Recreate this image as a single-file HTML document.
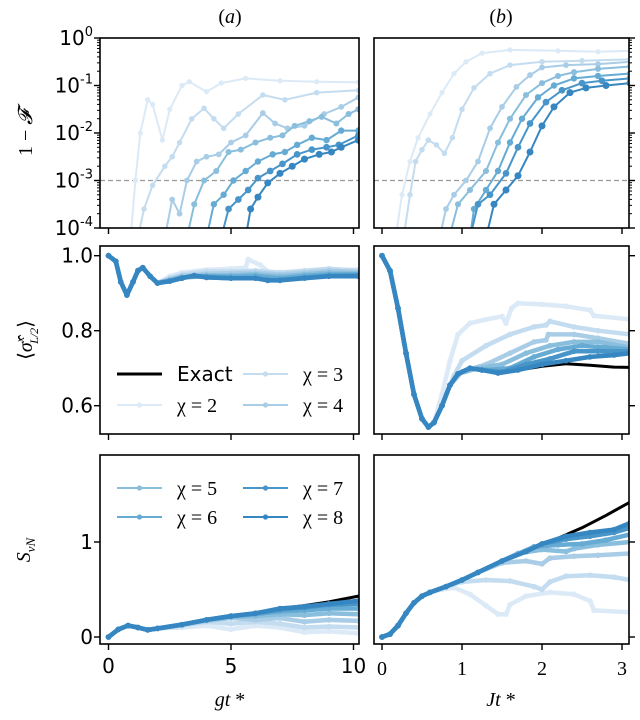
<!DOCTYPE html>
<html><head><meta charset="utf-8"><style>
body{margin:0;background:#fff}
svg{display:block}
.tl{font-family:"DejaVu Sans","Liberation Sans",sans-serif;font-size:20px;fill:#000}
.sr{font-family:"Liberation Serif",serif;font-size:20px;fill:#000}
</style></head><body>
<svg id="c" width="640" height="720" viewBox="0 0 640 720" xmlns="http://www.w3.org/2000/svg"></svg>
<script>
// ---------- DATA ----------
const chiLabels = ["χ = 2","χ = 3","χ = 4","χ = 5","χ = 6","χ = 7","χ = 8"];
const colors = ["#dceaf7","#c4dcf0","#a9cde7","#8abedd","#66abd4","#4896c9","#3686c1"];
// (a) top: log10(1-F) vs gt
const topA_x = [
 [0.9,1.1,1.3,1.6,1.8,2.2,2.5,3.0,3.3,4.0,4.6,5.6,7,8.5,10.2],
 [1.2,1.45,1.8,2.3,2.6,2.9,3.4,3.9,4.3,4.7,5.3,6.3,7.2,8.5,10.2],
 [2.3,2.6,2.9,3.2,3.6,4.0,4.5,5.0,5.6,6.3,6.8,7.3,8.0,8.8,9.5,10.2],
 [3.2,3.5,3.9,4.4,4.9,5.4,6.0,6.6,7.1,7.6,8.2,8.7,9.3,9.8,10.2],
 [4.0,4.3,4.7,5.1,5.6,6.1,6.7,7.2,7.7,8.3,8.9,9.5,10.2],
 [4.6,4.9,5.3,5.7,6.1,6.6,7.1,7.7,8.3,8.9,9.4,10.2],
 [5.6,5.8,6.1,6.5,7.0,7.5,8.0,8.6,9.1,9.5,10.2]];
const topA_y = [
 [-4.2,-3,-2,-1.3,-1.4,-2.15,-1.5,-1.0,-0.92,-1.13,-0.95,-0.85,-0.9,-0.92,-0.93],
 [-4.2,-3.6,-3.1,-2.7,-2.5,-2.2,-1.7,-1.48,-1.7,-1.9,-1.6,-1.2,-1.3,-1.15,-1.1],
 [-4.2,-3.4,-3.7,-3.0,-2.6,-2.5,-2.45,-2.2,-2.05,-1.58,-1.8,-1.9,-1.85,-1.6,-1.45,-1.25],
 [-4.2,-3.5,-3.0,-2.8,-2.4,-2.35,-2.2,-2.1,-2.05,-1.85,-1.75,-1.66,-1.8,-1.6,-1.5],
 [-4.2,-3.5,-3.3,-3.0,-2.8,-2.6,-2.45,-2.4,-2.25,-2.1,-2.15,-1.95,-1.95],
 [-4.2,-3.6,-3.4,-3.2,-2.95,-2.8,-2.65,-2.45,-2.35,-2.3,-2.25,-2.05],
 [-4.2,-3.6,-3.35,-3.05,-2.85,-2.7,-2.55,-2.45,-2.4,-2.3,-2.15]];
// (b) top: log10(1-F) vs Jt
const topB_x = [
 [0.17,0.25,0.35,0.45,0.6,0.75,0.9,1.05,1.25,1.6,2.2,2.7,3.1],
 [0.27,0.35,0.42,0.5,0.58,0.68,0.78,0.88,1.0,1.15,1.35,1.6,2.0,2.5,3.1],
 [0.72,0.8,0.9,1.05,1.2,1.35,1.5,1.68,1.85,2.0,2.3,2.7,3.1],
 [0.84,0.95,1.1,1.3,1.45,1.6,1.8,2.0,2.2,2.4,2.7,3.1],
 [1.1,1.15,1.3,1.45,1.6,1.75,1.95,2.15,2.4,2.7,3.1],
 [1.1,1.2,1.35,1.55,1.7,1.85,2.05,2.25,2.5,2.75,3.1],
 [1.3,1.4,1.55,1.7,1.85,2.0,2.15,2.35,2.55,2.8,3.1]];
const topB_y = [
 [-4.2,-3.3,-2.6,-2.1,-1.6,-1.15,-0.75,-0.5,-0.32,-0.25,-0.27,-0.29,-0.27],
 [-4.2,-3.3,-2.6,-2.35,-2.15,-2.25,-2.43,-2.1,-1.5,-1.05,-0.75,-0.57,-0.5,-0.48,-0.45],
 [-4.2,-3.6,-3.3,-3.0,-2.6,-1.9,-1.45,-1.03,-0.78,-0.62,-0.57,-0.55,-0.5],
 [-4.2,-3.5,-3.2,-2.8,-2.2,-1.7,-1.2,-0.95,-0.8,-0.72,-0.65,-0.6],
 [-4.2,-3.6,-3.2,-2.8,-2.2,-1.7,-1.25,-1.0,-0.85,-0.8,-0.75],
 [-4.2,-3.5,-3.3,-2.85,-2.3,-1.8,-1.35,-1.1,-0.95,-0.9,-0.85],
 [-4.2,-3.5,-3.2,-2.9,-2.4,-1.85,-1.45,-1.15,-1.05,-1.0,-0.95]];
// (a) middle: <sigma_x> vs gt
const midA_exact_x = [0,0.3,0.5,0.75,1.0,1.2,1.4,1.7,2.0,2.5,3,3.5,4,5,6,6.5,7,8,9,10.2];
const midA_exact_y = [1.0,0.985,0.93,0.895,0.93,0.96,0.968,0.945,0.927,0.932,0.94,0.947,0.942,0.94,0.94,0.934,0.934,0.94,0.945,0.945];
const midA_pre_x = [0,0.3,0.5,0.75,1.0,1.2,1.4,1.7,2.0];
const midA_pre_y = [1.0,0.985,0.93,0.895,0.93,0.96,0.968,0.945,0.927];
const midA_tail_x = [
 [2.5,3,4,5,5.6,5.7,6.2,6.5,7,8,9,10.2],
 [2.5,3,4,5,6,7,8,9,10.2],
 [2.5,3,4,5,6,7,8,9,10.2],
 [2.5,3,4,5,6,7,8,9,10.2],
 [2.5,3,4,5,6,7,8,9,10.2],
 [2.5,3,3.5,4,5,6,6.5,7,8,9,10.2],
 [2.5,3,3.5,4,5,6,6.5,7,8,9,10.2]];
const midA_tail_y = [
 [0.945,0.955,0.962,0.965,0.968,0.99,0.975,0.958,0.952,0.955,0.962,0.963],
 [0.94,0.95,0.958,0.958,0.96,0.955,0.96,0.965,0.96],
 [0.938,0.946,0.952,0.953,0.955,0.95,0.955,0.96,0.957],
 [0.935,0.943,0.948,0.948,0.95,0.945,0.95,0.955,0.953],
 [0.933,0.942,0.945,0.944,0.946,0.94,0.946,0.95,0.95],
 [0.932,0.94,0.947,0.942,0.94,0.94,0.935,0.935,0.941,0.946,0.947],
 [0.932,0.94,0.947,0.942,0.94,0.94,0.934,0.934,0.94,0.945,0.945]];
// (b) middle
const midB_exact_x = [0,0.1,0.2,0.3,0.4,0.5,0.58,0.65,0.75,0.85,0.95,1.1,1.25,1.45,1.7,2.0,2.3,2.6,2.9,3.1];
const midB_exact_y = [1.0,0.96,0.86,0.74,0.63,0.565,0.543,0.555,0.6,0.655,0.685,0.7,0.695,0.687,0.695,0.705,0.712,0.708,0.703,0.702];
const midB_pre_x = [0,0.1,0.2,0.3,0.4,0.5,0.58,0.65];
const midB_pre_y = [1.0,0.96,0.86,0.74,0.63,0.565,0.543,0.555];
const midB_tail_x = [
 [0.75,0.85,0.95,1.1,1.3,1.5,1.55,1.62,1.7,2.0,2.3,2.6,2.65,3.1],
 [0.75,0.8,0.9,1.0,1.3,1.6,1.9,2.05,2.1,2.4,2.7,3.1],
 [0.75,0.85,1.0,1.3,1.6,1.9,2.05,2.08,2.4,2.7,3.1],
 [0.75,0.85,0.95,1.2,1.5,1.8,2.1,2.4,2.7,3.1],
 [0.75,0.85,0.95,1.1,1.3,1.6,1.9,2.2,2.5,2.8,3.1],
 [0.75,0.85,0.95,1.1,1.25,1.5,1.8,2.1,2.4,2.7,3.1],
 [0.75,0.85,0.95,1.1,1.25,1.45,1.7,2.0,2.3,2.6,2.9,3.1]];
const midB_tail_y = [
 [0.63,0.72,0.79,0.82,0.83,0.838,0.82,0.86,0.873,0.87,0.865,0.855,0.84,0.83],
 [0.6,0.63,0.68,0.72,0.76,0.79,0.81,0.815,0.825,0.81,0.8,0.79],
 [0.6,0.655,0.69,0.71,0.74,0.77,0.775,0.79,0.79,0.78,0.765],
 [0.6,0.655,0.685,0.7,0.71,0.74,0.76,0.77,0.77,0.755],
 [0.6,0.655,0.685,0.7,0.695,0.7,0.73,0.75,0.76,0.755,0.75],
 [0.6,0.655,0.685,0.7,0.695,0.69,0.71,0.725,0.745,0.745,0.745],
 [0.6,0.655,0.685,0.7,0.695,0.687,0.695,0.71,0.72,0.73,0.735,0.74]];
// (a) bottom: S_vN vs gt
const botA_exact_x = [0,0.4,0.8,1.2,1.6,2,3,4,5,6,7,8,9,10.2];
const botA_exact_y = [0,0.08,0.12,0.1,0.075,0.09,0.13,0.18,0.22,0.25,0.3,0.33,0.37,0.43];
const botA_pre_x = [0,0.4,0.8,1.2,1.6,2];
const botA_pre_y = [0,0.08,0.12,0.1,0.075,0.09];
const botA_tail_x = [
 [3,4,5,6,7,8,9,10.2],[3,4,5,6,7,8,9,10.2],[3,4,5,6,7,8,9,10.2],[3,4,5,6,7,8,9,10.2],
 [3,4,5,6,7,8,9,10.2],[3,4,5,6,7,8,9,10.2],[3,4,5,6,7,8,9,10.2]];
const botA_tail_y = [
 [0.1,0.12,0.08,0.12,0.1,0.05,0.06,0.04],
 [0.12,0.16,0.14,0.16,0.14,0.1,0.11,0.1],
 [0.13,0.17,0.2,0.18,0.2,0.16,0.18,0.17],
 [0.13,0.18,0.21,0.22,0.24,0.23,0.25,0.24],
 [0.13,0.18,0.22,0.24,0.27,0.28,0.3,0.3],
 [0.13,0.18,0.22,0.25,0.29,0.31,0.34,0.35],
 [0.13,0.18,0.22,0.25,0.3,0.32,0.35,0.38]];
// (b) bottom
const botB_exact_x = [0,0.1,0.2,0.3,0.4,0.5,0.6,0.8,1.0,1.2,1.5,1.8,2.0,2.2,2.5,2.8,3.1];
const botB_exact_y = [0,0.03,0.12,0.25,0.36,0.43,0.47,0.53,0.6,0.68,0.8,0.9,0.98,1.04,1.15,1.28,1.42];
const botB_pre_x = [0,0.1,0.2,0.3,0.4,0.5,0.6];
const botB_pre_y = [0,0.03,0.12,0.25,0.36,0.43,0.47];
const botB_tail_x = [
 [0.75,0.9,1.1,1.3,1.45,1.55,1.6,1.8,2.1,2.4,2.6,2.65,3.1],
 [0.8,1.0,1.3,1.6,1.9,2.0,2.1,2.3,2.6,2.9,3.1],
 [0.8,1.0,1.2,1.5,1.8,2.0,2.1,2.4,2.7,3.1],
 [0.8,1.0,1.2,1.5,1.7,2.0,2.3,2.4,2.7,3.1],
 [0.8,1.0,1.2,1.5,1.9,2.2,2.5,2.8,3.1],
 [0.8,1.0,1.2,1.5,1.8,2.0,2.3,2.6,2.9,3.1],
 [0.8,1.0,1.2,1.5,1.8,2.0,2.3,2.6,2.9,3.1]];
const botB_tail_y = [
 [0.5,0.52,0.45,0.33,0.24,0.24,0.34,0.43,0.47,0.45,0.38,0.28,0.26],
 [0.53,0.58,0.6,0.59,0.53,0.5,0.58,0.64,0.65,0.63,0.6],
 [0.53,0.6,0.68,0.78,0.8,0.77,0.83,0.85,0.86,0.88],
 [0.53,0.6,0.68,0.8,0.88,0.92,0.9,0.93,0.97,1.0],
 [0.53,0.6,0.68,0.8,0.95,0.97,0.98,1.02,1.08],
 [0.53,0.6,0.68,0.8,0.9,0.98,1.03,1.06,1.1,1.15],
 [0.53,0.6,0.68,0.8,0.9,0.98,1.06,1.1,1.13,1.2]];

// ---------- DRAW ----------
const NS="http://www.w3.org/2000/svg";
const svg=document.getElementById('c');
function el(tag,attrs,parent){const e=document.createElementNS(NS,tag);for(const k in attrs)e.setAttribute(k,attrs[k]);(parent||svg).appendChild(e);return e;}
const colL=[100,359], colR=[374,629];
const rows=[[38,228],[246,434],[455,644]];
const xA=v=>108.5+24.5*v, xB=v=>382+80*v;
const yMid=v=>255.7+(1-v)*375;
const yBot=v=>637-95*v;
const yT=v=>38-v*47.5;
let clipId=0;
function panel(name,xr,yr){
  const id='clip'+(clipId++);
  const cp=el('clipPath',{id:id});
  el('rect',{x:xr[0],y:yr[0],width:xr[1]-xr[0],height:yr[1]-yr[0]},cp);
  const g=el('g',{'clip-path':'url(#'+id+')'});
  
  
  return g;
}
function frame(name,xr,yr){
  const r=el('rect',{x:xr[0],y:yr[0],width:xr[1]-xr[0],height:yr[1]-yr[0],fill:'none',stroke:'#000','stroke-width':1.6});
  
  
}
function series(g,xs,ys,xf,yf,color,lw,mr,name){
  const pts=xs.map((x,i)=>xf(x).toFixed(1)+','+yf(ys[i]).toFixed(1)).join(' ');
  const pl=el('polyline',{points:pts,fill:'none',stroke:color,'stroke-width':lw,'stroke-linejoin':'round','stroke-linecap':'round'},g);
  
  
  if(mr>0) xs.forEach((x,i)=>{const c=el('circle',{cx:xf(x),cy:yf(ys[i]),r:mr,fill:color},g);
    
    });
}
// top panels
[[colL,xA,topA_x,topA_y,'a'],[colR,xB,topB_x,topB_y,'b']].forEach(([xr,xf,X,Y,tag])=>{
  const g=panel('infidelity-panel-'+tag,xr,rows[0]);
  const d=el('line',{x1:xr[0],x2:xr[1],y1:yT(-3),y2:yT(-3),stroke:'#999','stroke-width':1.2,'stroke-dasharray':'5,3'},g);
  
  
  X.forEach((xs,i)=>series(g,xs,Y[i],xf,yT,colors[i],2,2.6+i*0.15,'infidelity-'+tag+'-chi'+(i+2)));
  frame('frame-top-'+tag,xr,rows[0]);
});
// middle and bottom
function thick(tag,xr,yr,xf,yf,ex,ey,px,py,TX,TY,nm){
  const g=panel(nm+'-panel-'+tag,xr,yr);
  series(g,ex,ey,xf,yf,'#000',3,0,nm+'-'+tag+'-exact');
  TX.forEach((tx,i)=>series(g,px.concat(tx),py.concat(TY[i]),xf,yf,colors[i],4.5,2.8,nm+'-'+tag+'-chi'+(i+2)));
  frame('frame-'+nm+'-'+tag,xr,yr);
}
thick('a',colL,rows[1],xA,yMid,midA_exact_x,midA_exact_y,midA_pre_x,midA_pre_y,midA_tail_x,midA_tail_y,'magnetization');
thick('b',colR,rows[1],xB,yMid,midB_exact_x,midB_exact_y,midB_pre_x,midB_pre_y,midB_tail_x,midB_tail_y,'magnetization');
thick('a',colL,rows[2],xA,yBot,botA_exact_x,botA_exact_y,botA_pre_x,botA_pre_y,botA_tail_x,botA_tail_y,'entropy');
thick('b',colR,rows[2],xB,yBot,botB_exact_x,botB_exact_y,botB_pre_x,botB_pre_y,botB_tail_x,botB_tail_y,'entropy');

// ticks
function tick(x1,y1,x2,y2,w){const t=el('line',{x1,y1,x2,y2,stroke:'#000','stroke-width':w||1.4});}
function text(x,y,s,cls,anchor,name,extra){const t=el('text',Object.assign({x,y,'class':cls,'text-anchor':anchor||'middle'},extra||{}));t.innerHTML=s;return t;}
const xTicksA=[0,5,10], xTicksB=[0,1,2,3];
rows.forEach((r,ri)=>{
  xTicksA.forEach(v=>tick(xA(v),r[1],xA(v),r[1]+6));
  xTicksB.forEach(v=>tick(xB(v),r[1],xB(v),r[1]+6));
});
xTicksA.forEach(v=>text(xA(v),673,String(v),'tl','middle','x-tick-label-a'));
xTicksB.forEach(v=>text(xB(v),675,String(v),'sr','middle','x-tick-label-b'));
// log ticks
const logTicks=[0,-1,-2,-3,-4];
logTicks.forEach(v=>{
  tick(colL[0]-6,yT(v),colL[0],yT(v));tick(colR[1],yT(v),colR[1]+6,yT(v));
  text(93,yT(v)+7,'10<tspan font-size="13" dy="-9">'+v+'</tspan>','tl','end','y-tick-label-top');
  if(v>-4)for(let k=2;k<10;k++){const yy=yT(v-1+Math.log10(k));tick(colL[0]-3,yy,colL[0],yy,1);tick(colR[1],yy,colR[1]+3,yy,1);}
});
const midTicks=[1.0,0.8,0.6];
midTicks.forEach(v=>{tick(colL[0]-6,yMid(v),colL[0],yMid(v));tick(colR[1],yMid(v),colR[1]+6,yMid(v));
  text(93,yMid(v)+7,v.toFixed(1),'tl','end','y-tick-label-mid');});
const botTicks=[0,1];
botTicks.forEach(v=>{tick(colL[0]-6,yBot(v),colL[0],yBot(v));tick(colR[1],yBot(v),colR[1]+6,yBot(v));
  text(93,yBot(v)+7,String(v),'tl','end','y-tick-label-bot');});

// titles & axis labels
text(230,23,'(<tspan font-style="italic">a</tspan>)','sr','middle','panel-title-a');
text(501,23,'(<tspan font-style="italic">b</tspan>)','sr','middle','panel-title-b');
text(230,706,'<tspan font-style="italic">gt</tspan> *','sr','middle','x-axis-title-a',{'font-size':'20'});
text(501,706,'<tspan font-style="italic">Jt</tspan> *','sr','middle','x-axis-title-b',{'font-size':'20'});
text(0,0,'1 − <tspan font-style="italic">𝓕</tspan>','sr','middle','y-axis-title-infidelity',{transform:'translate(32,133) rotate(-90)','font-size':'18'});
text(0,0,'⟨<tspan font-style="italic">σ̂</tspan><tspan font-size="12" dy="-8" font-style="italic">x</tspan><tspan font-size="12" dy="14" dx="-7" font-style="italic">L/2</tspan><tspan dy="-6">⟩</tspan>','sr','middle','y-axis-title-magnetization',{transform:'translate(32,340) rotate(-90)','font-size':'20'});
text(0,0,'<tspan font-style="italic">S</tspan><tspan font-size="13" dy="5" font-style="italic">vN</tspan>','sr','middle','y-axis-title-entropy',{transform:'translate(30,550) rotate(-90)','font-size':'20'});

// legends
function legendEntry(x,y,color,label,lw,name,cls){
  const g=el('g',{});
  
  
  el('line',{x1:x,x2:x+45,y1:y,y2:y,stroke:color,'stroke-width':lw},g);
  if(color!=='#000')el('circle',{cx:x+22.5,cy:y,r:2.6,fill:color},g);
  const t=el('text',{x:x+60,y:y+7,'class':cls},g);t.textContent=label;
}
legendEntry(117,374,'#000','Exact',3,'legend-exact','tl');
legendEntry(117,405,colors[0],chiLabels[0],2,'legend-chi2','sr');
legendEntry(243,374,colors[1],chiLabels[1],2,'legend-chi3','sr');
legendEntry(243,405,colors[2],chiLabels[2],2,'legend-chi4','sr');
legendEntry(117,488,colors[3],chiLabels[3],2,'legend-chi5','sr');
legendEntry(117,517,colors[4],chiLabels[4],2,'legend-chi6','sr');
legendEntry(243,488,colors[5],chiLabels[5],2,'legend-chi7','sr');
legendEntry(243,517,colors[6],chiLabels[6],2,'legend-chi8','sr');
</script>
</body></html>
